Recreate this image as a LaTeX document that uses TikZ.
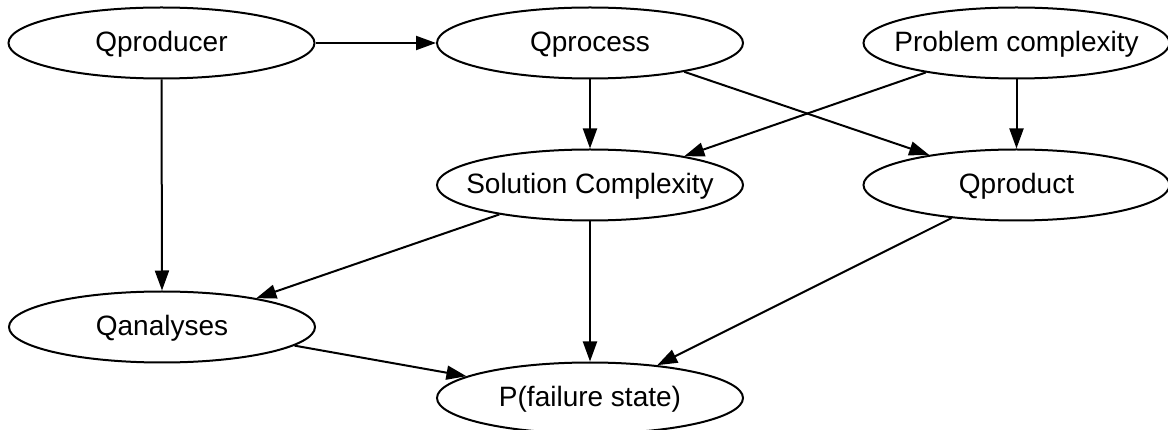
\documentclass[tikz,border=0pt]{standalone}
\usepackage{fontspec}
\setmainfont{Liberation Sans}
\usetikzlibrary{shapes.geometric,arrows.meta}
% label of zero width, so every ellipse keeps the same size
\newcommand{\vlabel}[1]{\makebox[0pt][c]{#1}}
\begin{document}
\begin{tikzpicture}[x=1pt,y=-1pt,
  var/.style={draw, ellipse, line width=2pt, minimum width=306pt, minimum height=71pt,
    inner sep=0pt, font=\fontsize{28}{32}\selectfont, text height=20pt, text depth=2.6pt},
  edge/.style={line width=2pt, -{Triangle[length=20pt,width=14pt]}}]
\useasboundingbox (0,0) rectangle (1168,430);

% variables of the network
\node[var] (qproducer) at (161.5,43)  {\vlabel{Qproducer}};
\node[var] (qprocess)  at (590,43)    {\vlabel{Qprocess}};
\node[var] (problem)   at (1016.5,43) {\vlabel{Problem complexity}};
\node[var] (solution)  at (590,185)   {\vlabel{Solution Complexity}};
\node[var] (qproduct)  at (1016.5,185){\vlabel{Qproduct}};
\node[var] (qanalyses) at (162,327)   {\vlabel{Qanalyses}};
\node[var] (failure)   at (590,398)   {\vlabel{P(failure state)}};

% dependencies
\draw[edge] (qproducer.east) -- (qprocess.west);
\draw[edge] (qproducer.south) -- (qanalyses.north);
\draw[edge] (qprocess.south) -- (solution.north);
\draw[edge] (qprocess.-17.7) -- (qproduct.161.9);
\draw[edge] (problem.198) -- (solution.17.8);
\draw[edge] (problem.south) -- (qproduct.north);
\draw[edge] (solution.198.2) -- (qanalyses.17.6);
\draw[edge] (solution.south) -- (failure.north);
\draw[edge] (qproduct.207.1) -- (failure.26.6);
\draw[edge] (qanalyses.-8.9) -- (failure.170.4);
\end{tikzpicture}
\end{document}
